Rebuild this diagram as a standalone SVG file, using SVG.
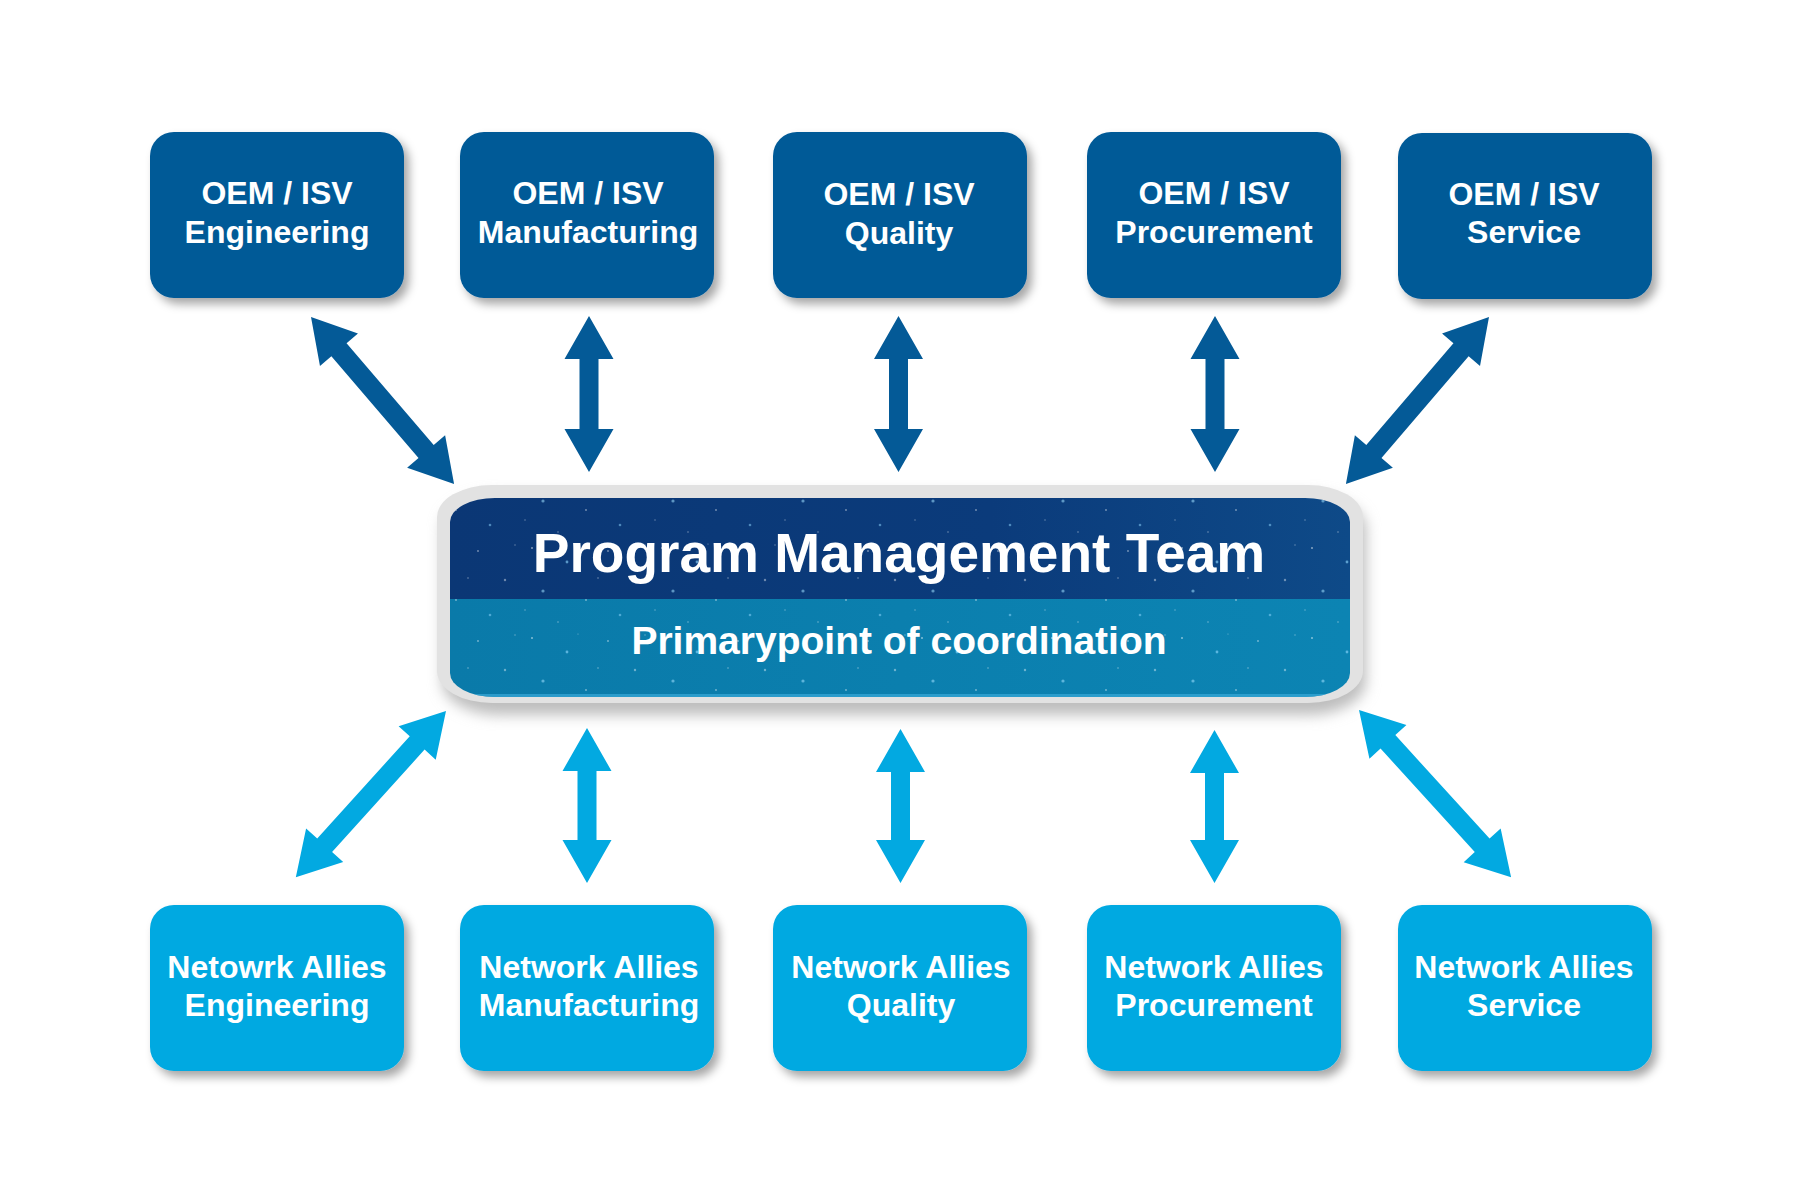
<svg xmlns="http://www.w3.org/2000/svg" width="1800" height="1200" viewBox="0 0 1800 1200">
<style>
.box-top{fill:#045A97;}
.box-bot{fill:#02A9E1;}
.lbl{font-family:"Liberation Sans",Arial,sans-serif;font-weight:bold;font-size:32px;fill:#fff;text-anchor:middle;}
.title{font-family:"Liberation Sans",Arial,sans-serif;font-weight:bold;font-size:55px;fill:#fff;text-anchor:middle;}
.sub{font-family:"Liberation Sans",Arial,sans-serif;font-weight:bold;font-size:39px;fill:#fff;text-anchor:middle;}
.arr-top{fill:#045A97;}
.arr-bot{fill:#02A9E1;}
</style>
<defs>
<filter id="sh" x="-20%" y="-20%" width="150%" height="160%">
<feDropShadow dx="5" dy="6" stdDeviation="5" flood-color="#000" flood-opacity="0.35"/>
</filter>
<filter id="halo" x="-10%" y="-30%" width="120%" height="170%">
<feGaussianBlur stdDeviation="7"/>
</filter>
<linearGradient id="navy" x1="0" y1="0" x2="1" y2="0">
<stop offset="0" stop-color="#0B3775"/>
<stop offset="0.6" stop-color="#0B3B7B"/>
<stop offset="1" stop-color="#0E4A88"/>
</linearGradient>
<linearGradient id="teal" x1="0" y1="0" x2="1" y2="0">
<stop offset="0" stop-color="#0A7AA9"/>
<stop offset="1" stop-color="#0C84B3"/>
</linearGradient>
<pattern id="stars" x="0" y="0" width="130" height="90" patternUnits="userSpaceOnUse">
<circle cx="12" cy="8" r="1" fill="#fff" opacity="0.5"/>
<circle cx="47" cy="22" r="1.4" fill="#8fd8ff" opacity="0.6"/>
<circle cx="88" cy="11" r="0.9" fill="#fff" opacity="0.45"/>
<circle cx="115" cy="40" r="1.2" fill="#fff" opacity="0.4"/>
<circle cx="23" cy="51" r="1.6" fill="#9fe0ff" opacity="0.55"/>
<circle cx="66" cy="60" r="0.9" fill="#fff" opacity="0.45"/>
<circle cx="100" cy="75" r="1.3" fill="#8fd8ff" opacity="0.5"/>
<circle cx="38" cy="82" r="0.8" fill="#fff" opacity="0.4"/>
<circle cx="78" cy="38" r="0.7" fill="#fff" opacity="0.5"/>
<circle cx="5" cy="70" r="0.8" fill="#fff" opacity="0.35"/>
<circle cx="125" cy="5" r="0.7" fill="#fff" opacity="0.4"/>
<circle cx="58" cy="4" r="0.6" fill="#fff" opacity="0.4"/>
</pattern>
<clipPath id="cclip">
<rect x="450" y="498" width="900" height="199" rx="45" ry="24"/>
</clipPath>
</defs>
<rect width="1800" height="1200" fill="#fff"/>

<g id="center">
<rect x="442" y="495" width="924" height="220" rx="58" ry="34" fill="#BDBDBD" filter="url(#halo)"/>
<rect x="437" y="485" width="926" height="218" rx="55" ry="32" fill="#E2E2E2"/>
<g clip-path="url(#cclip)">
<rect x="450" y="498" width="900" height="102" fill="url(#navy)"/>
<rect x="450" y="599" width="900" height="98" fill="url(#teal)"/>
<rect x="450" y="498" width="900" height="199" fill="url(#stars)"/>
<rect x="450" y="694" width="900" height="3" fill="#39A9D8" opacity="0.7"/>
</g>
<text class="title" x="899" y="572">Program Management Team</text>
<text class="sub" x="899" y="654">Primarypoint of coordination</text>
</g>

<g id="oem-engineering">
<rect class="box-top" x="150" y="132" width="254" height="166" rx="24" filter="url(#sh)"/>
<text class="lbl" x="277" y="204">OEM / ISV</text>
<text class="lbl" x="277" y="242.5">Engineering</text>
</g>
<g id="oem-manufacturing">
<rect class="box-top" x="460" y="132" width="254" height="166" rx="24" filter="url(#sh)"/>
<text class="lbl" x="588" y="204">OEM / ISV</text>
<text class="lbl" x="588" y="242.5">Manufacturing</text>
</g>
<g id="oem-quality">
<rect class="box-top" x="773" y="132" width="254" height="166" rx="24" filter="url(#sh)"/>
<text class="lbl" x="899" y="205">OEM / ISV</text>
<text class="lbl" x="899" y="243.5">Quality</text>
</g>
<g id="oem-procurement">
<rect class="box-top" x="1087" y="132" width="254" height="166" rx="24" filter="url(#sh)"/>
<text class="lbl" x="1214" y="204">OEM / ISV</text>
<text class="lbl" x="1214" y="242.5">Procurement</text>
</g>
<g id="oem-service">
<rect class="box-top" x="1398" y="133" width="254" height="166" rx="24" filter="url(#sh)"/>
<text class="lbl" x="1524" y="204.5">OEM / ISV</text>
<text class="lbl" x="1524" y="243">Service</text>
</g>

<g id="na-engineering">
<rect class="box-bot" x="150" y="905" width="254" height="166" rx="24" filter="url(#sh)"/>
<text class="lbl" x="277" y="978">Netowrk Allies</text>
<text class="lbl" x="277" y="1016">Engineering</text>
</g>
<g id="na-manufacturing">
<rect class="box-bot" x="460" y="905" width="254" height="166" rx="24" filter="url(#sh)"/>
<text class="lbl" x="589" y="978">Network Allies</text>
<text class="lbl" x="589" y="1016">Manufacturing</text>
</g>
<g id="na-quality">
<rect class="box-bot" x="773" y="905" width="254" height="166" rx="24" filter="url(#sh)"/>
<text class="lbl" x="901" y="978">Network Allies</text>
<text class="lbl" x="901" y="1016">Quality</text>
</g>
<g id="na-procurement">
<rect class="box-bot" x="1087" y="905" width="254" height="166" rx="24" filter="url(#sh)"/>
<text class="lbl" x="1214" y="978">Network Allies</text>
<text class="lbl" x="1214" y="1016">Procurement</text>
</g>
<g id="na-service">
<rect class="box-bot" x="1398" y="905" width="254" height="166" rx="24" filter="url(#sh)"/>
<text class="lbl" x="1524" y="978">Network Allies</text>
<text class="lbl" x="1524" y="1016">Service</text>
</g>

<g id="connectors">
<path class="arr-top" transform="translate(311,317) rotate(49.43)" d="M0,0 L43,-25 L43,-10 L177,-10 L177,-25 L220,0 L177,25 L177,10 L43,10 L43,25 Z"/>
<path class="arr-top" transform="translate(589,316) rotate(90)" d="M0,0 L43,-24.5 L43,-9.5 L113,-9.5 L113,-24.5 L156,0 L113,24.5 L113,9.5 L43,9.5 L43,24.5 Z"/>
<path class="arr-top" transform="translate(898.5,316) rotate(90)" d="M0,0 L43,-24.5 L43,-9.5 L113,-9.5 L113,-24.5 L156,0 L113,24.5 L113,9.5 L43,9.5 L43,24.5 Z"/>
<path class="arr-top" transform="translate(1215,316) rotate(90)" d="M0,0 L43,-24.5 L43,-9.5 L113,-9.5 L113,-24.5 L156,0 L113,24.5 L113,9.5 L43,9.5 L43,24.5 Z"/>
<path class="arr-top" transform="translate(1489,317) rotate(130.57)" d="M0,0 L43,-25 L43,-10 L177,-10 L177,-25 L220,0 L177,25 L177,10 L43,10 L43,25 Z"/>

<path class="arr-bot" transform="translate(446,711) rotate(132.1)" d="M0,0 L43,-25 L43,-10 L181,-10 L181,-25 L224,0 L181,25 L181,10 L43,10 L43,25 Z"/>
<path class="arr-bot" transform="translate(587,728) rotate(90)" d="M0,0 L43,-24.5 L43,-9.5 L112,-9.5 L112,-24.5 L155,0 L112,24.5 L112,9.5 L43,9.5 L43,24.5 Z"/>
<path class="arr-bot" transform="translate(900.5,729) rotate(90)" d="M0,0 L43,-24.5 L43,-9.5 L111,-9.5 L111,-24.5 L154,0 L111,24.5 L111,9.5 L43,9.5 L43,24.5 Z"/>
<path class="arr-bot" transform="translate(1214.5,730) rotate(90)" d="M0,0 L43,-24.5 L43,-9.5 L110,-9.5 L110,-24.5 L153,0 L110,24.5 L110,9.5 L43,9.5 L43,24.5 Z"/>
<path class="arr-bot" transform="translate(1359,710) rotate(47.7)" d="M0,0 L43,-25 L43,-10 L183,-10 L183,-25 L226,0 L183,25 L183,10 L43,10 L43,25 Z"/>
</g>
</svg>
